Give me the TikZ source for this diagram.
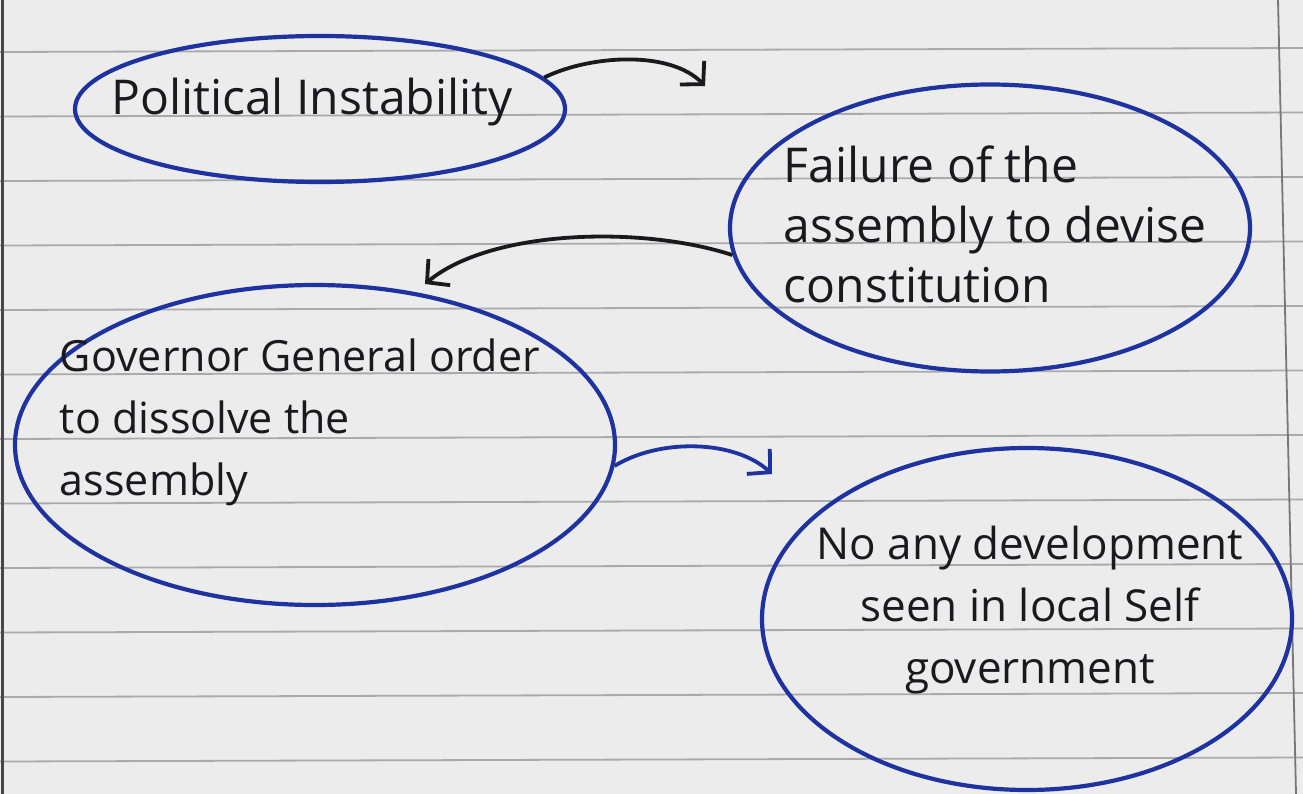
\documentclass[tikz,border=0pt]{standalone}
\usepackage{fontspec}
\setmainfont{Open Sans}
\usetikzlibrary{arrows.meta,shapes.geometric}
\definecolor{ink}{RGB}{30,50,160}
\definecolor{pen}{RGB}{25,25,30}
\definecolor{paper}{RGB}{236,236,236}
\definecolor{ruleline}{RGB}{170,170,170}
\tikzset{
  bubble/.style={ellipse, draw=ink, line width=4.2pt, inner sep=0pt},
  txt/.style={text=pen, inner sep=0pt, font=\fontsize{48}{62}\selectfont},
  flow/.style={line width=3.8pt, -{Straight Barb[length=16pt,width=34pt,line width=3.8pt]}},
}
\begin{document}
\begin{tikzpicture}[x=1pt,y=-1pt]
\fill[paper] (0,0) rectangle (1303,794);
\useasboundingbox (0,0) rectangle (1303,794);
\foreach \k in {0,...,11} \draw[ruleline, line width=1.8pt] (0,{52+64.5*\k}) -- (1303,{48+64.5*\k});
\draw[ruleline!70!black, line width=1.8pt] (1278,0) -- (1296,794);
\draw[pen!80, line width=3pt] (2,0) -- (2,794);

% bubbles
\node[bubble, minimum width=490, minimum height=146] (e1) at (320,109) {};
\node[bubble, minimum width=520, minimum height=287] (e2) at (990,228) {};
\node[bubble, minimum width=600, minimum height=320] (e3) at (315,445) {};
\node[bubble, minimum width=530, minimum height=342] (e4) at (1027,619) {};

% texts
\node[txt, font=\fontsize{48}{62}\selectfont] (t1) at (312,102) {Political Instability};
\node[txt, align=left, font=\fontsize{48}{60}\selectfont] (t2) at (995,224) {Failure of the\\assembly to devise\\constitution};
\node[txt, align=left, font=\fontsize{43}{62}\selectfont] (t3) at (300,422) {Governor General order\\to dissolve the\\assembly};
\node[txt, align=center, font=\fontsize{44}{62}\selectfont] (t4) at (1030,610) {No any development\\seen in local Self\\government};

% arrow ends
\coordinate (a1) at (705,86);
\coordinate (a2) at (425,284);
\coordinate (a3) at (772,474);

\draw[flow, pen] (e1.8) .. controls (590,55) and (670,50) .. (a1);
\draw[flow, pen] (e2.186) .. controls (640,225) and (490,230) .. (a2);
\draw[flow, ink] (e3.-4) .. controls (660,438) and (735,440) .. (a3);
\end{tikzpicture}
\end{document}
